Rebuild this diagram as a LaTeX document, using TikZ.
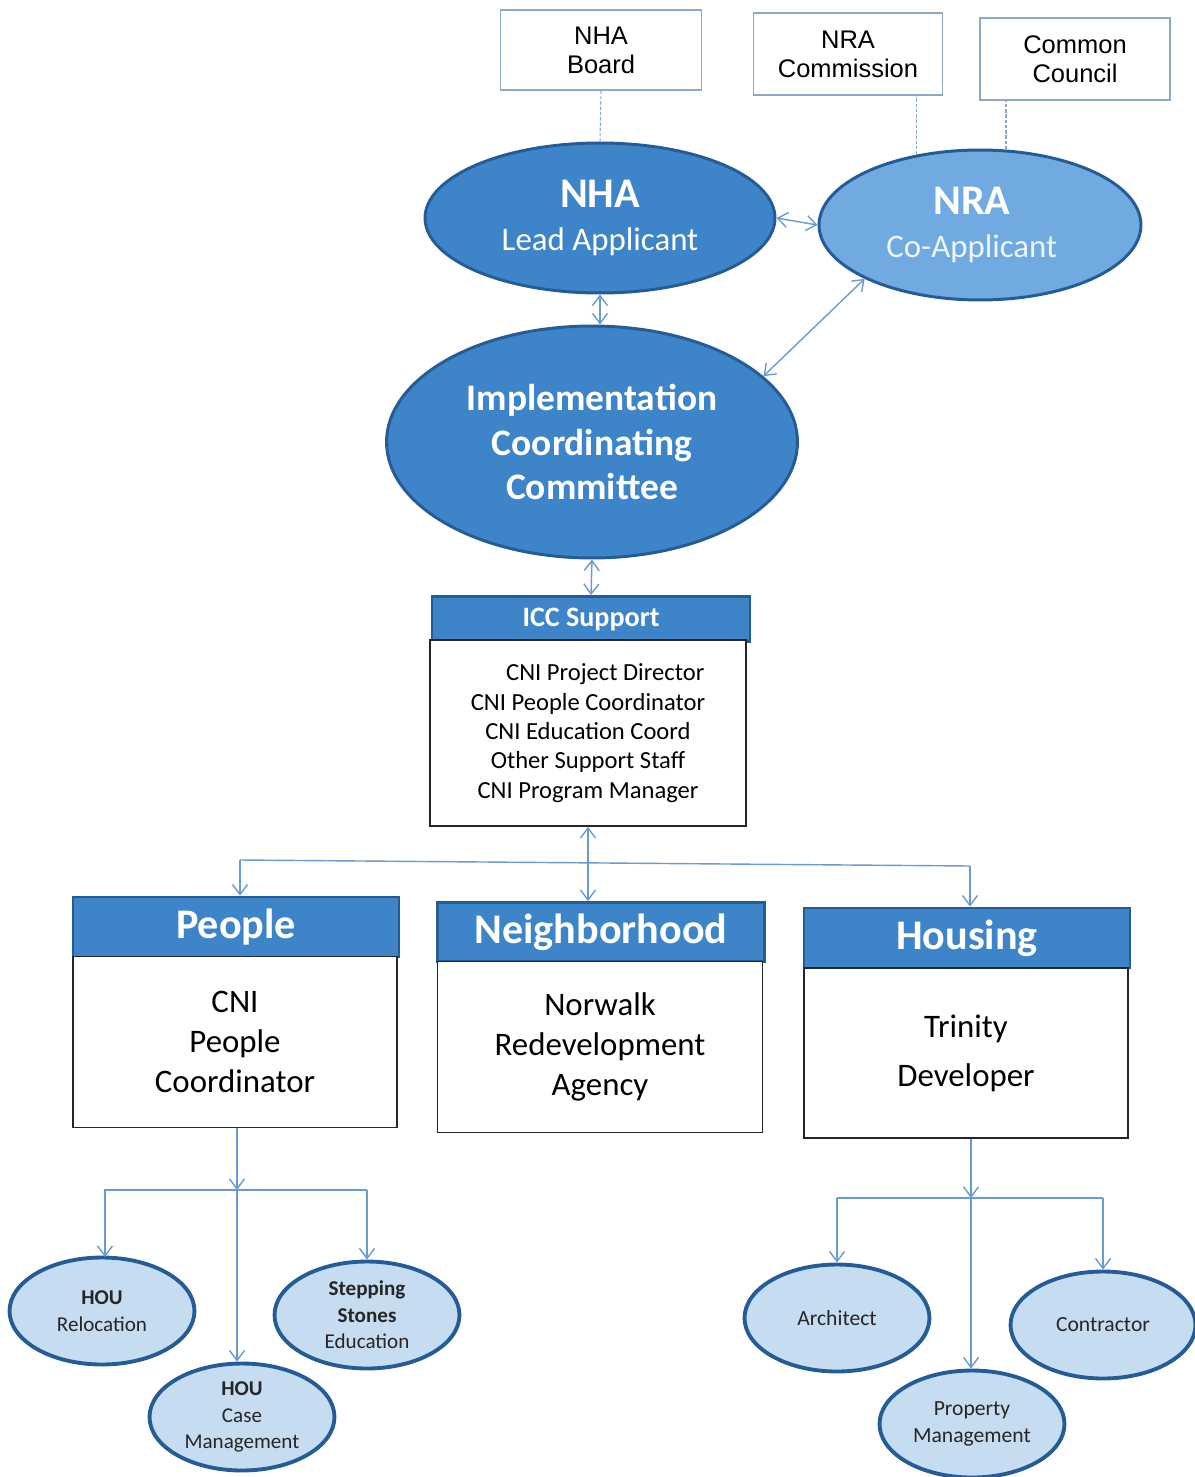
\documentclass[tikz,border=0pt]{standalone}
\usepackage{fontspec}
\setmainfont{Carlito}
\newfontfamily\arialf{Liberation Sans}
\usepackage{tikz}
\usetikzlibrary{shapes.geometric, arrows.meta, positioning, calc}

\definecolor{midblue}{RGB}{62,132,200}
\definecolor{lightblue}{RGB}{112,170,225}
\definecolor{paleblue}{RGB}{198,220,241}
\definecolor{edgeblue}{RGB}{38,92,150}
\definecolor{linkblue}{RGB}{105,155,210}
\definecolor{boxgrey}{RGB}{140,170,200}

\tikzset{
  topbox/.style={draw=boxgrey, line width=0.8pt, fill=white, align=center,
    font=\arialf\fontsize{14.5}{16.5}\selectfont, inner sep=0pt},
  bigoval/.style={ellipse, draw=edgeblue, line width=1.7pt, fill=midblue,
    text=white, align=center, inner sep=0pt},
  smalloval/.style={ellipse, draw=edgeblue, line width=2.2pt, fill=paleblue,
    text=black!85, align=center, inner sep=0pt, minimum width=3.7cm, minimum height=2.14cm,
    font=\fontsize{12}{15}\selectfont},
  hdr/.style={draw=edgeblue, line width=1.6pt, fill=midblue, text=white,
    inner sep=0pt, font=\bfseries\fontsize{24}{28}\selectfont},
  bodybox/.style={draw=black!85, line width=1pt, fill=white, align=center,
    inner sep=0pt, font=\fontsize{18.7}{22.7}\selectfont},
  link/.style={draw=linkblue, line width=0.8pt},
  tie/.style={draw=boxgrey, line width=0.6pt, dash pattern=on 2pt off 1pt},
  >={Straight Barb[length=2mm,width=3mm]}
}

\begin{document}
\begin{tikzpicture}[x=0.02cm, y=-0.02cm]
\useasboundingbox (0,0) rectangle (1195,1477);

% top boards
\node[topbox, minimum width=4.02cm, minimum height=1.6cm] (nhab) at (601,50) {NHA\\Board};
\node[topbox, minimum width=3.78cm, minimum height=1.64cm] (nrac) at (848,54) {NRA\\Commission};
\node[topbox, minimum width=3.8cm, minimum height=1.64cm] (cc) at (1075,59) {Common\\Council};

% applicants
\node[bigoval, minimum width=7cm, minimum height=3cm, font=\fontsize{18.7}{25}\selectfont] (nha) at (600,218)
  {{\fontsize{24}{25}\selectfont\bfseries NHA}\\Lead Applicant};
\node[bigoval, fill=lightblue, minimum width=6.44cm, minimum height=3cm, font=\fontsize{18.7}{25}\selectfont] (nra) at (980,225)
  {\hspace*{-0.5em}{\fontsize{24}{25}\selectfont\bfseries NRA}\\\hspace*{-0.5em}\textcolor{white!88!lightblue}{Co-Applicant}};
\node[bigoval, minimum width=8.22cm, minimum height=4.64cm, font=\bfseries\fontsize{21.3}{25.5}\selectfont] (icc) at (592,442)
  {Implementation\\Coordinating\\Committee};

\draw[tie] (nhab.south) -- (nha.north);
\draw[tie] (nra.132) -- (nra.132 |- nrac.south);
\draw[tie] (nra.71) -- (nra.71 |- cc.south);

\draw[link,<->] (nha.east) -- (nra.west);
\draw[link,<->] (nha.south) -- (nha.south |- icc.north);
\draw[link,<->] (icc.21) -- (nra.205);

% ICC support
\node[hdr, minimum width=6.36cm, minimum height=0.9cm, font=\bfseries\fontsize{16}{18}\selectfont] (ichead) at (591,619) {ICC Support};
\node[bodybox, minimum width=6.32cm, minimum height=3.72cm, font=\fontsize{14}{16.7}\selectfont] (icbody) at (588,733)
  {\hspace*{1.4em}CNI Project Director\\CNI People Coordinator\\CNI Education Coord\\Other Support Staff\\CNI Program Manager};
\draw[link,<->] (icc.south) -- (ichead.north);

% three areas
\node[hdr, minimum width=6.52cm, minimum height=1.2cm] (phead) at (236,927) {People};
\node[bodybox, minimum width=6.48cm, minimum height=3.42cm] (pbody) at (235,1042) {CNI\\People\\Coordinator};
\node[hdr, minimum width=6.54cm, minimum height=1.18cm] (nhead) at (601,932) {Neighborhood};
\node[bodybox, minimum width=6.5cm, minimum height=3.42cm] (nbody) at (600,1047) {Norwalk\\Redevelopment\\Agency};
\node[hdr, minimum width=6.52cm, minimum height=1.2cm] (hhead) at (967,938) {Housing};
\node[bodybox, minimum width=6.48cm, minimum height=3.4cm, font=\fontsize{18.7}{28}\selectfont] (hbody) at (966,1053) {Trinity\\Developer};

\coordinate (busL) at (240,860);
\coordinate (busR) at (970,866);
\draw[link] (busL) -- (busR);
\draw[link,<->] (icbody.south) -- (icbody.south |- nhead.north);
\draw[link,->] (busL) -- (busL |- phead.north);
\draw[link,->] (busR) -- (busR |- hhead.north);

% people partners
\node[smalloval] (rel) at (102,1311) {\textbf{HOU}\\Relocation};
\node[smalloval] (step) at (367,1315) {\textbf{Stepping}\\\textbf{Stones}\\Education};
\node[smalloval] (case) at (242,1417) {\textbf{HOU}\\Case\\Management};

\coordinate (pb) at (237,1190);
\draw[link,->] (pbody.south -| pb) -- (pb);
\draw[link] (rel.north -| 105,0) |- (step.north |- pb);
\draw[link,->] (105,1190) -- (105,1257);
\draw[link,->] (step.north |- pb) -- (step.north);
\draw[link,->] (pb) -- (pb |- case.north);

% housing partners
\node[smalloval, font=\fontsize{12.3}{15}\selectfont] (arch) at (837,1318) {Architect};
\node[smalloval, font=\fontsize{12.3}{15}\selectfont] (cont) at (1103,1325) {Contractor};
\node[smalloval, font=\fontsize{12.3}{15}\selectfont] (prop) at (972,1424) {Property\\Management};

\coordinate (hb) at (971,1198);
\draw[link,->] (hbody.south -| hb) -- (hb);
\draw[link] (arch.north |- hb) -- (cont.north |- hb);
\draw[link,->] (arch.north |- hb) -- (arch.north);
\draw[link,->] (cont.north |- hb) -- (cont.north);
\draw[link,->] (hb) -- (hb |- prop.north);
\end{tikzpicture}
\end{document}
